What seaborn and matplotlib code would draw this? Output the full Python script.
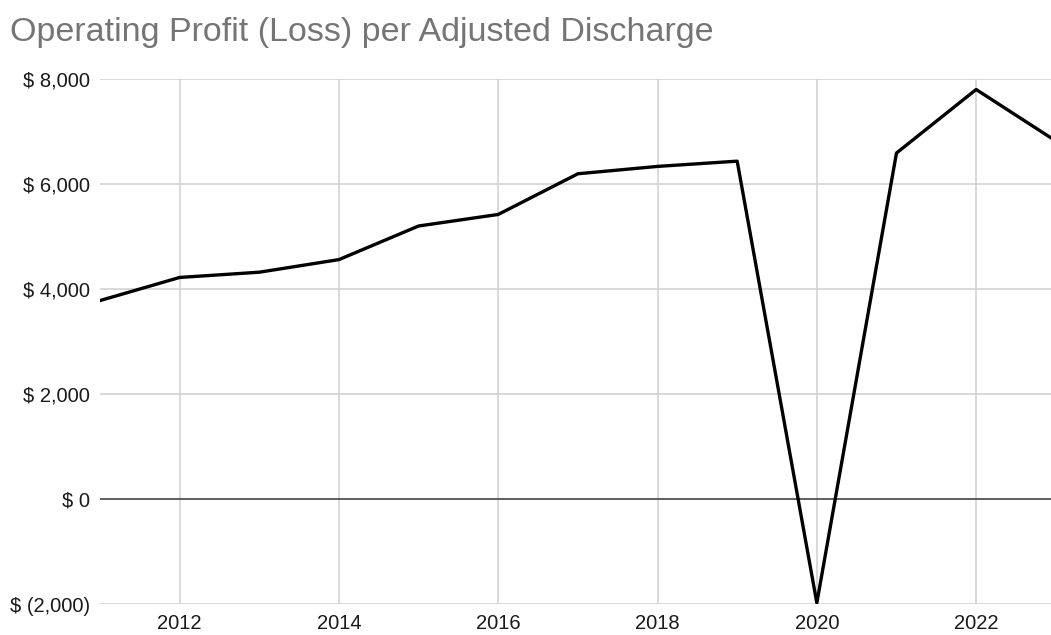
import numpy as np
import pandas as pd
import matplotlib
matplotlib.use("Agg")
import matplotlib.pyplot as plt
import seaborn as sns
from matplotlib.ticker import FuncFormatter

years = [2011, 2012, 2013, 2014, 2015, 2016, 2017, 2018, 2019, 2020, 2021, 2022, 2023]
profit = [3780, 4220, 4320, 4560, 5200, 5420, 6195, 6335, 6435, -1980, 6590, 7800, 6820]

y_ticks = [-2000, 0, 2000, 4000, 6000, 8000]
x_ticks = [2012, 2014, 2016, 2018, 2020, 2022]

df = pd.DataFrame({"year": years, "profit": profit})

sns.set_style("white")
plt.rcParams["font.family"] = ["Liberation Sans", "DejaVu Sans"]

fig = plt.figure(figsize=(10.51, 6.35), dpi=100)
ax = fig.add_axes([100 / 1051, 1 - 604 / 635, 951 / 1051, (604 - 79) / 635])

# grid first, so the line sits on top
for yv in y_ticks:
    if yv == 0:
        ax.axhline(yv, color="#333333", lw=1.1, zorder=1)
    else:
        ax.axhline(yv, color="#d0d0d0", lw=1.1, zorder=0)
for xv in x_ticks:
    ax.axvline(xv, color="#d0d0d0", lw=1.1, zorder=0)

sns.lineplot(data=df, x="year", y="profit", color="black", linewidth=2.4, ax=ax, zorder=3)

ax.set_xlim(2011, 2022.94)
ax.set_ylim(-2000, 8000)
ax.set_xticks(x_ticks)
ax.set_yticks(y_ticks)


def money(v, pos):
    if v < 0:
        return f"$ ({abs(v):,.0f})"
    return f"$ {v:,.0f}"


ax.yaxis.set_major_formatter(FuncFormatter(money))
ax.tick_params(axis="both", length=0, labelsize=14.5, colors="#1a1a1a")
ax.tick_params(axis="y", pad=7)
ax.tick_params(axis="x", pad=7)
ax.set_xlabel("")
ax.set_ylabel("")
for s in ax.spines.values():
    s.set_visible(False)

fig.text(10 / 1051, 1 - 32 / 635, "Operating Profit (Loss) per Adjusted Discharge",
         fontsize=24.5, color="#757575", va="center", ha="left")

fig.savefig("out.png", dpi=100)
